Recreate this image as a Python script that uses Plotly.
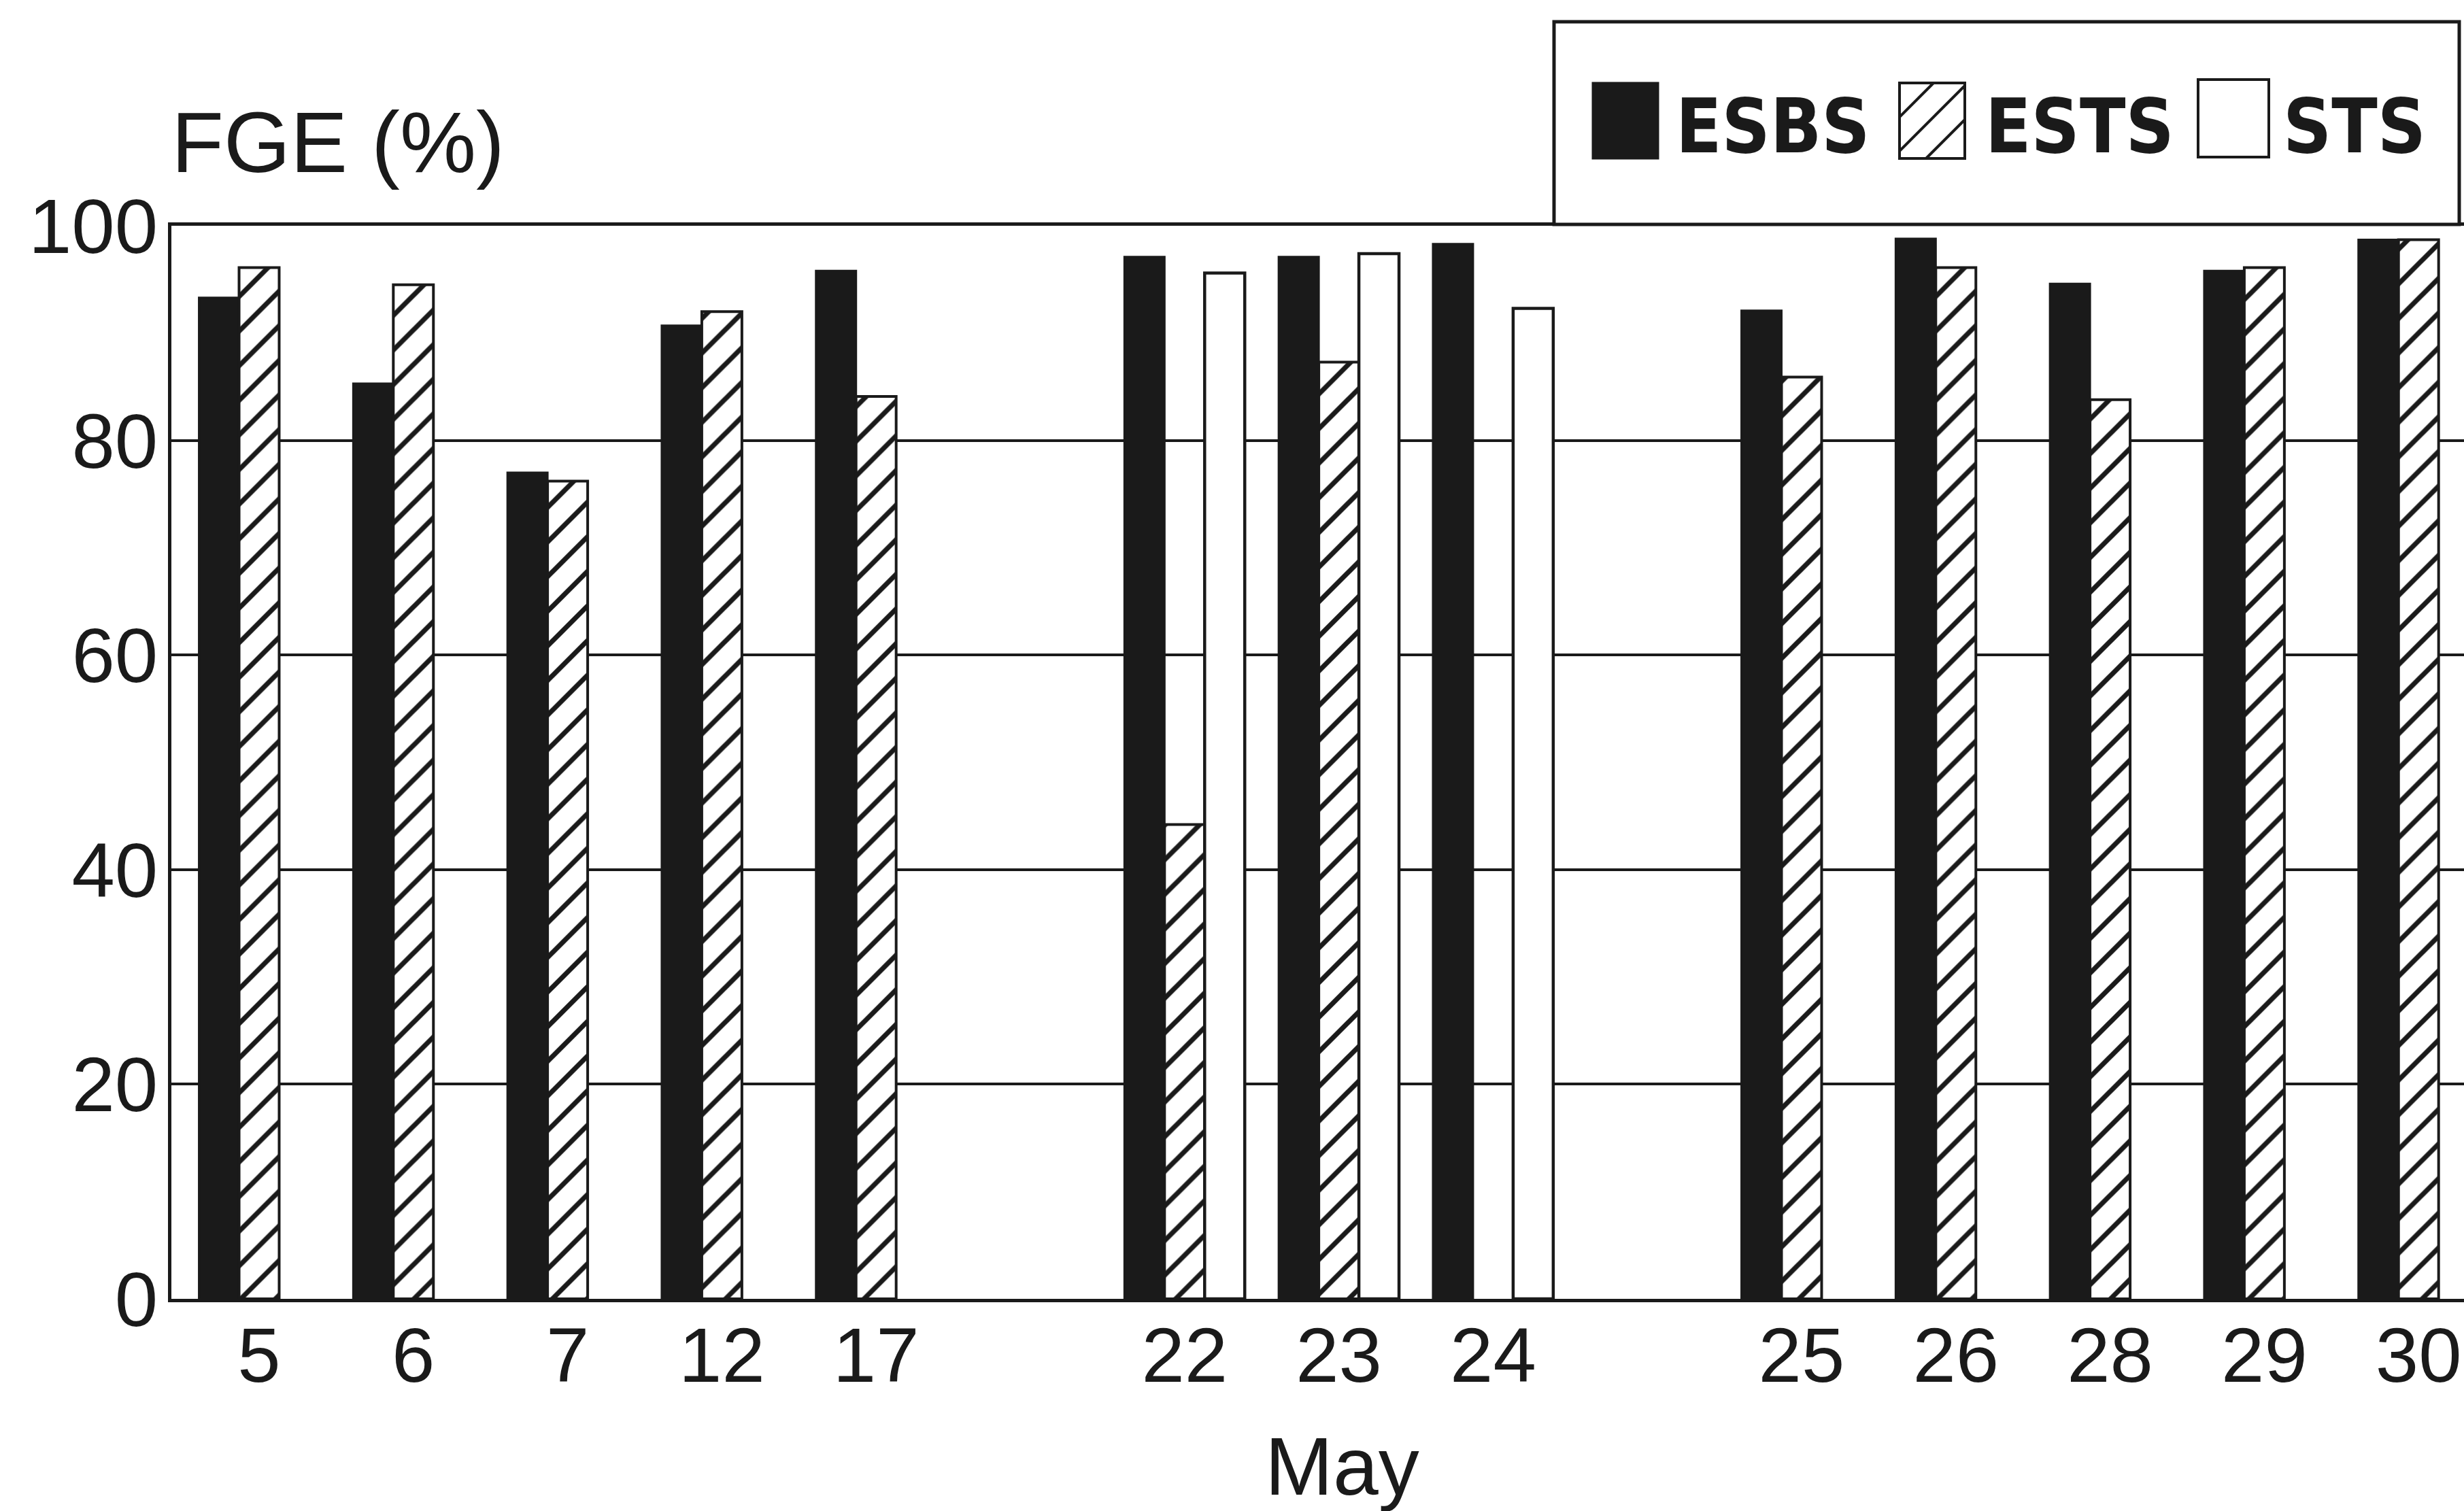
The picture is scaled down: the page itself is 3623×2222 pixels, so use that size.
import plotly.graph_objects as go

# ---------------- data ----------------
days = ["5", "6", "7", "12", "17", "22", "23", "24", "25", "26", "28", "29", "30"]
esbs = [93.3, 85.3, 77.0, 90.7, 95.8, 97.1, 97.1, 98.3, 92.1, 98.8, 94.6, 95.8, 98.7]
ests = [96.1, 94.5, 76.2, 92.0, 84.1, 44.2, 87.3, None, 85.9, 96.1, 83.8, 96.1, 98.7]
sts = [None, None, None, None, None, 95.6, 97.4, 92.3, None, None, None, None, None]
series_names = ["ESBS", "ESTS", "STS"]
y_ticks = [0, 20, 40, 60, 80, 100]
gap_after = ["17", "24"]  # an empty slot follows these days on the axis

# slot index of each day (layout, derived from the gaps)
pos = []
p = 0
for d in days:
    pos.append(p)
    p += 2 if d in gap_after else 1

# ---------------- geometry (pixels) ----------------
W, H = 3623, 2222
L, R, T, B = 252, 3623, 332, 1910
INK = "#1a1a1a"
FONT = "Liberation Sans, Arial, Helvetica, sans-serif"
NARROW = "DejaVu Sans Condensed, Liberation Sans, Arial, sans-serif"


def px_x(v):
    return (v - L) / (R - L)


def px_y(v):
    return (B - v) / (B - T)


slot_px = 226.8
x0_px = 381
x_range = [(L - x0_px) / slot_px, (R - x0_px) / slot_px]

fig = go.Figure()
fig.add_trace(go.Bar(x=pos, y=esbs, name=series_names[0],
                     marker=dict(color=INK, line=dict(color=INK, width=3))))
fig.add_trace(go.Bar(x=pos, y=ests, name=series_names[1],
                     marker=dict(color="white", line=dict(color=INK, width=4),
                                 pattern=dict(shape="/", fgcolor=INK, bgcolor="white",
                                              size=36, solidity=0.2, fillmode="replace"))))
fig.add_trace(go.Bar(x=pos, y=sts, name=series_names[2],
                     marker=dict(color="white", line=dict(color=INK, width=4.5))))

fig.update_layout(
    width=W, height=H,
    margin=dict(l=L, r=W - R, t=T, b=H - B, pad=0),
    paper_bgcolor="white", plot_bgcolor="white",
    barmode="group", bargap=0.22, bargroupgap=0.0,
    showlegend=False,
    font=dict(family=FONT, color=INK, size=112),
)
fig.update_xaxes(
    range=x_range, tickmode="array", tickvals=pos, ticktext=days,
    showline=True, linecolor=INK, linewidth=5, mirror=True,
    showgrid=False, zeroline=False, ticks="",
    tickfont=dict(family=FONT, size=114, color=INK), ticklabelstandoff=-20,
)
fig.update_yaxes(
    range=[0, 100], tickmode="array", tickvals=y_ticks,
    showline=True, linecolor=INK, linewidth=5, mirror=False,
    showgrid=True, gridcolor=INK, gridwidth=4, zeroline=False, ticks="",
    tickfont=dict(family=FONT, size=114, color=INK), ticklabelstandoff=-8,
)

# axis titles as annotations
fig.add_annotation(text="FGE (%)", xref="paper", yref="paper",
                   x=px_x(250), y=px_y(210), xanchor="left", yanchor="middle",
                   showarrow=False, font=dict(family=FONT, size=126, color=INK))
fig.add_annotation(text="May", xref="paper", yref="paper",
                   x=px_x(1973), y=px_y(2156), xanchor="center", yanchor="middle",
                   showarrow=False, font=dict(family=FONT, size=120, color=INK))

# ---------------- custom legend ----------------
shapes = []
shapes.append(dict(type="rect", xref="paper", yref="paper",
                   x0=px_x(2285), x1=px_x(3616), y0=px_y(330), y1=px_y(32),
                   fillcolor="white", line=dict(color=INK, width=5), layer="above"))
# black swatch
shapes.append(dict(type="rect", xref="paper", yref="paper",
                   x0=px_x(2342), x1=px_x(2438), y0=px_y(233), y1=px_y(122),
                   fillcolor=INK, line=dict(color=INK, width=3), layer="above"))
# hatched swatch
hx0, hx1, hy0, hy1 = 2793, 2889, 122, 233
shapes.append(dict(type="rect", xref="paper", yref="paper",
                   x0=px_x(hx0), x1=px_x(hx1), y0=px_y(hy1), y1=px_y(hy0),
                   fillcolor="white", line=dict(color=INK, width=4), layer="above"))
c = hx0 + hy0 + 50
while c < hx1 + hy1 - 10:
    xa = max(hx0, c - hy1)
    xb = min(hx1, c - hy0)
    shapes.append(dict(type="line", xref="paper", yref="paper",
                       x0=px_x(xa), y0=px_y(c - xa), x1=px_x(xb), y1=px_y(c - xb),
                       line=dict(color=INK, width=4), layer="above"))
    c += 50
# white swatch
shapes.append(dict(type="rect", xref="paper", yref="paper",
                   x0=px_x(3232), x1=px_x(3336), y0=px_y(231), y1=px_y(117),
                   fillcolor="white", line=dict(color=INK, width=4), layer="above"))
fig.update_layout(shapes=shapes)

for name, xl in zip(series_names, [2462, 2917, 3355]):
    fig.add_annotation(text=name, xref="paper", yref="paper",
                       x=px_x(xl), y=px_y(186), xanchor="left", yanchor="middle",
                       showarrow=False,
                       font=dict(family=NARROW, size=110, color=INK, weight="bold"))

fig.write_html("out.html", config={"displayModeBar": False},
               post_script="document.body.style.margin='0';")
